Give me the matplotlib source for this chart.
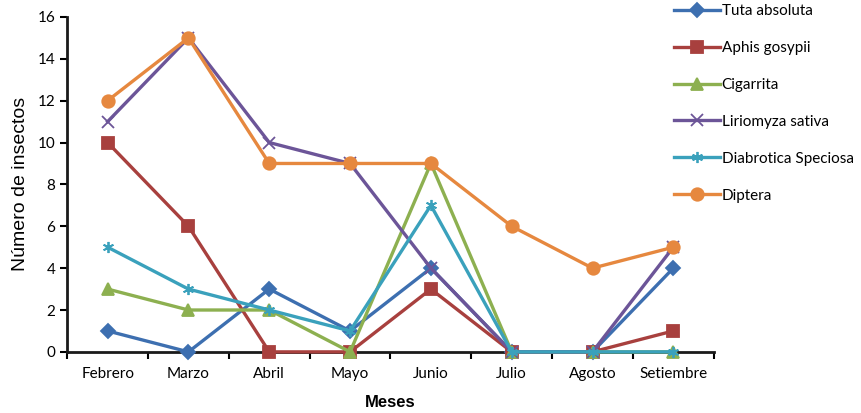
import matplotlib
matplotlib.use("Agg")
import matplotlib.pyplot as plt
import numpy as np

meses = ["Febrero", "Marzo", "Abril", "Mayo", "Junio", "Julio", "Agosto", "Setiembre"]
tuta = [1, 0, 3, 1, 4, 0, 0, 4]
aphis = [10, 6, 0, 0, 3, 0, 0, 1]
cigarrita = [3, 2, 2, 0, 9, 0, 0, 0]
liriomyza = [11, 15, 10, 9, 4, 0, 0, 5]
diabrotica = [5, 3, 2, 1, 7, 0, 0, 0]
diptera = [12, 15, 9, 9, 9, 6, 4, 5]

series = [
    ("Tuta absoluta", tuta, "#3D6FB0", "D", 7),
    ("Aphis gosypii", aphis, "#A8403E", "s", 8),
    ("Cigarrita", cigarrita, "#8DB050", "^", 8),
    ("Liriomyza sativa", liriomyza, "#6C5598", "x", 8),
    ("Diabrotica Speciosa", diabrotica, "#3AA1BC", (6, 2, 0), 8),
    ("Diptera", diptera, "#E6883F", "o", 9),
]

tick_font = ["Lato", "DejaVu Sans"]

fig = plt.figure(figsize=(8.62, 4.13), dpi=100)
ax = fig.add_axes([0.078, 0.148, 0.75, 0.811])

x = np.arange(len(meses))
for name, vals, col, mk, ms in series:
    ax.plot(x, vals, color=col, lw=2.4, marker=mk, ms=ms, mew=1.3,
            mec=col, mfc=col, label=name, clip_on=False, zorder=3)

ax.set_xlim(-0.5, len(meses) - 0.5)
ax.set_ylim(0, 16)
ax.set_yticks(range(0, 17, 2))
ax.set_xticks(x)
ax.set_xticklabels(meses, family=tick_font, fontsize=11)
ax.set_xticks(np.arange(-0.5, len(meses), 1), minor=True)
ax.tick_params(axis="x", which="major", length=0, pad=11)
ax.tick_params(axis="x", which="minor", length=5, width=1.5, direction="out")
ax.tick_params(axis="y", length=5, width=1.5, direction="out")
for lab in ax.get_yticklabels():
    lab.set_family(tick_font)
    lab.set_fontsize(11)

for s in ["top", "right"]:
    ax.spines[s].set_visible(False)
for s in ["left", "bottom"]:
    ax.spines[s].set_linewidth(2)
    ax.spines[s].set_color("#1a1a1a")

ax.set_ylabel("Número de insectos", family=["Liberation Sans Narrow", "Liberation Sans"],
              fontsize=14, labelpad=6)
ax.set_xlabel("Meses", family=["Liberation Sans Narrow", "Liberation Sans"],
              fontsize=12, fontweight="bold", labelpad=10)

fig.legend(loc="upper left", bbox_to_anchor=(0.775, 1.005), frameon=False,
           prop={"family": tick_font, "size": 11}, handlelength=3.0,
           handletextpad=0.1, labelspacing=1.5, borderaxespad=0)

fig.savefig("out.png", dpi=100)
